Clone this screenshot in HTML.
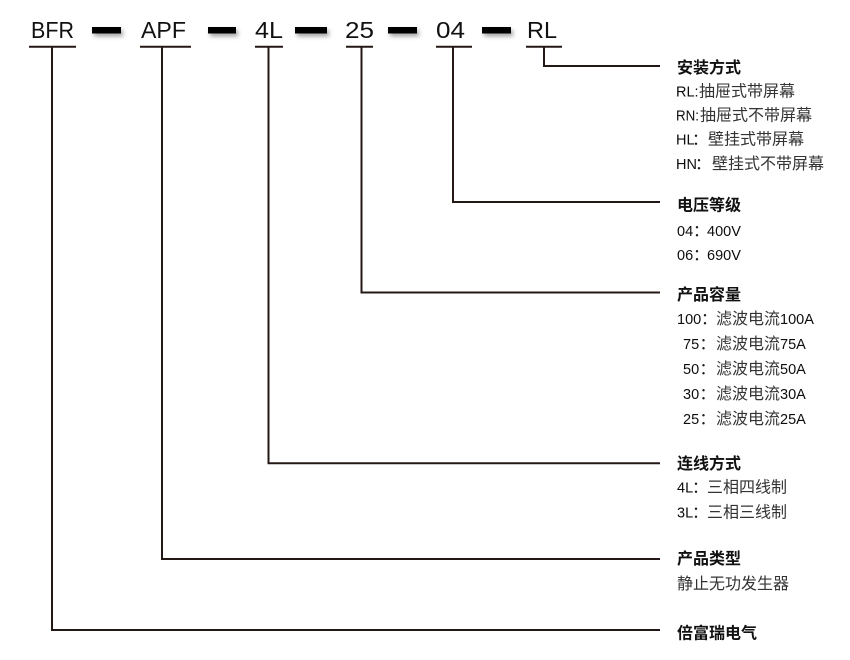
<!DOCTYPE html>
<html>
<head>
<meta charset="utf-8">
<style>
  html, body { margin:0; padding:0; background:#fff; }
  body { width:850px; height:660px; overflow:hidden; }
  svg { display:block; }
  .top { font-family:"Liberation Sans", sans-serif; font-size:23px; fill:#111; }
  .hd { font-family:"Liberation Sans","Noto Sans CJK SC", sans-serif; font-size:16px; font-weight:bold; fill:#111; }
  .ln { font-family:"Liberation Sans","Noto Sans CJK SC", sans-serif; font-size:14.5px; fill:#0d0d0d; }
  .cj { font-family:"Noto Sans CJK SC", sans-serif; font-size:16px; fill:#333; }
  .cl { font-family:"Noto Sans CJK SC", sans-serif; font-size:16px; fill:#1a1a1a; }
</style>
</head>
<body>
<svg width="850" height="660" viewBox="0 0 850 660" xmlns="http://www.w3.org/2000/svg">
  <defs>
    <filter id="sh" x="-30%" y="-100%" width="160%" height="400%">
      <feDropShadow dx="2" dy="3" stdDeviation="2" flood-color="#000" flood-opacity="0.35"/>
    </filter>
  </defs>

  <!-- top code labels -->
  <text class="top" x="31" y="38" textLength="43" lengthAdjust="spacingAndGlyphs">BFR</text>
  <text class="top" x="141" y="38" textLength="45" lengthAdjust="spacingAndGlyphs">APF</text>
  <text class="top" x="255" y="38" textLength="28" lengthAdjust="spacingAndGlyphs">4L</text>
  <text class="top" x="345" y="38" textLength="29" lengthAdjust="spacingAndGlyphs">25</text>
  <text class="top" x="436" y="38" textLength="29" lengthAdjust="spacingAndGlyphs">04</text>
  <text class="top" x="527" y="38" textLength="30" lengthAdjust="spacingAndGlyphs">RL</text>

  <!-- dashes -->
  <g fill="#000" filter="url(#sh)">
    <rect x="92" y="27" width="29" height="6.5"/>
    <rect x="208" y="27" width="28" height="6.5"/>
    <rect x="295" y="27" width="32" height="6.5"/>
    <rect x="388" y="27" width="29" height="6.5"/>
    <rect x="482" y="27" width="29" height="6.5"/>
  </g>

  <!-- underlines and connectors -->
  <g stroke="#231815" stroke-width="2" fill="none">
    <line x1="29" y1="46.7" x2="76" y2="46.7"/>
    <line x1="140" y1="46.7" x2="191" y2="46.7"/>
    <line x1="255" y1="46.7" x2="283" y2="46.7"/>
    <line x1="346" y1="46.7" x2="373" y2="46.7"/>
    <line x1="436" y1="46.7" x2="472" y2="46.7"/>
    <line x1="526" y1="46.7" x2="562" y2="46.7"/>

    <polyline points="52,46.7 52,630 660,630"/>
    <polyline points="162,46.7 162,559 660,559"/>
    <polyline points="268.5,46.7 268.5,463.3 660,463.3"/>
    <polyline points="361.5,46.7 361.5,292.5 660,292.5"/>
    <polyline points="453,46.7 453,202 660,202"/>
    <polyline points="544,46.7 544,66 660,66"/>
  </g>

  <!-- 安装方式 -->
  <text class="hd" x="677" y="73">安装方式</text>
  <text y="96.5"><tspan class="ln" x="676">RL:</tspan><tspan class="cj" x="699">抽屉式带屏幕</tspan></text>
  <text y="120.5"><tspan class="ln" x="676" textLength="23" lengthAdjust="spacingAndGlyphs">RN:</tspan><tspan class="cj" x="700">抽屉式不带屏幕</tspan></text>
  <text y="144.5"><tspan class="ln" x="676">HL</tspan><tspan class="cl" x="692">：</tspan><tspan class="cj" x="708">壁挂式带屏幕</tspan></text>
  <text y="169"><tspan class="ln" x="676">HN</tspan><tspan class="cl" x="695">：</tspan><tspan class="cj" x="712">壁挂式不带屏幕</tspan></text>

  <!-- 电压等级 -->
  <text class="hd" x="677" y="210.5">电压等级</text>
  <text y="236"><tspan class="ln" x="677">04</tspan><tspan class="cl" x="693">：</tspan><tspan class="ln" x="707">400V</tspan></text>
  <text y="260"><tspan class="ln" x="677">06</tspan><tspan class="cl" x="693">：</tspan><tspan class="ln" x="707">690V</tspan></text>

  <!-- 产品容量 -->
  <text class="hd" x="677" y="300">产品容量</text>
  <text y="324"><tspan class="ln" x="677">100</tspan><tspan class="cl" x="701">：</tspan><tspan class="cj" x="716">滤波电流</tspan><tspan class="ln" x="780">100A</tspan></text>
  <text y="349"><tspan class="ln" x="683">75</tspan><tspan class="cl" x="699.5">：</tspan><tspan class="cj" x="716">滤波电流</tspan><tspan class="ln" x="780">75A</tspan></text>
  <text y="374"><tspan class="ln" x="683">50</tspan><tspan class="cl" x="699.5">：</tspan><tspan class="cj" x="716">滤波电流</tspan><tspan class="ln" x="780">50A</tspan></text>
  <text y="399"><tspan class="ln" x="683">30</tspan><tspan class="cl" x="699.5">：</tspan><tspan class="cj" x="716">滤波电流</tspan><tspan class="ln" x="780">30A</tspan></text>
  <text y="424"><tspan class="ln" x="683">25</tspan><tspan class="cl" x="699.5">：</tspan><tspan class="cj" x="716">滤波电流</tspan><tspan class="ln" x="780">25A</tspan></text>

  <!-- 连线方式 -->
  <text class="hd" x="677" y="469">连线方式</text>
  <text y="492.7"><tspan class="ln" x="677">4L</tspan><tspan class="cl" x="692">：</tspan><tspan class="cj" x="707">三相四线制</tspan></text>
  <text y="517.7"><tspan class="ln" x="677">3L</tspan><tspan class="cl" x="692">：</tspan><tspan class="cj" x="707">三相三线制</tspan></text>

  <!-- 产品类型 -->
  <text class="hd" x="677" y="564">产品类型</text>
  <text class="cj" x="677" y="589">静止无功发生器</text>

  <!-- 倍富瑞电气 -->
  <text class="hd" x="677" y="638.5">倍富瑞电气</text>
</svg>
</body>
</html>
